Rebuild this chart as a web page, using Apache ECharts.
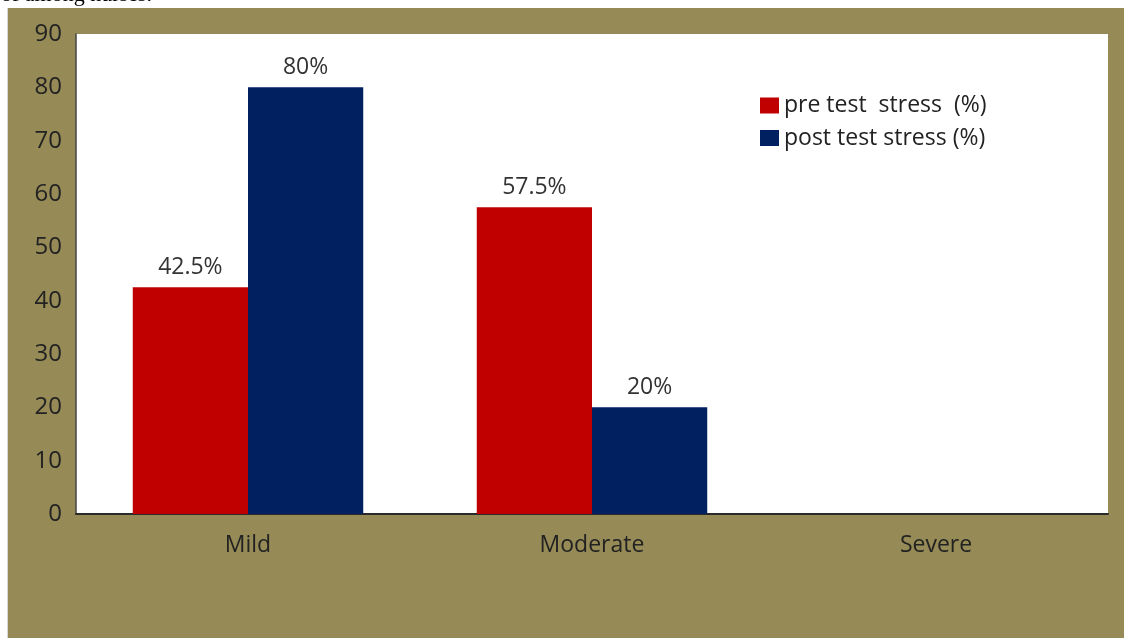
<!DOCTYPE html>
<html><head><meta charset="utf-8">
<script src="https://cdn.jsdelivr.net/npm/echarts@6/dist/echarts.min.js"></script>
<style>html,body{margin:0;padding:0;background:#fff}#c{width:1124px;height:638px}</style>
</head><body><div id="c"></div>
<script>
const categories = ['Mild', 'Moderate', 'Severe'];
const preTest = [42.5, 57.5, 0];
const postTest = [80, 20, 0];
const seriesNames = ['pre test  stress  (%)', 'post test stress (%)'];
const yTicks = [0, 10, 20, 30, 40, 50, 60, 70, 80, 90];

const font = '"Open Sans", "Noto Sans", sans-serif';
const chart = echarts.init(document.getElementById('c'));
const lbl = {
  show: true, position: 'top', distance: 8, color: '#333', fontSize: 23, fontFamily: font,
  formatter: p => p.value ? p.value + '%' : ''
};
chart.setOption({
  backgroundColor: '#ffffff',
  animation: false,
  graphic: [
    { type: 'rect', z: -10, silent: true, shape: { x: 8, y: 8, width: 1116, height: 630 }, style: { fill: '#968b56' } },
    { type: 'rect', z: -11, silent: true, shape: { x: 7, y: 8, width: 1, height: 630 }, style: { fill: '#d8d8d8' } },
    { type: 'text', silent: true, left: 1, top: -16, style: { text: 'of among nurses.', font: '22px "Liberation Serif", serif', fill: '#000' } }
  ],
  grid: { left: 76, right: 16, top: 34, bottom: 124, show: true, backgroundColor: '#ffffff', borderWidth: 0 },
  legend: {
    orient: 'vertical', left: 755, top: 89, itemWidth: 19, itemHeight: 16, itemGap: 9.5,
    icon: 'rect',
    textStyle: { fontSize: 23, lineHeight: 20, fontFamily: font, color: '#222' },
    data: seriesNames
  },
  xAxis: {
    type: 'category', data: categories,
    axisLine: { lineStyle: { color: '#2a2a2a', width: 2 } },
    axisTick: { show: false },
    axisLabel: { color: '#222', fontSize: 23, fontFamily: font, margin: 20 }
  },
  yAxis: {
    type: 'value', min: yTicks[0], max: yTicks[yTicks.length - 1], interval: 10,
    axisLine: { show: true, lineStyle: { color: '#444', width: 1.5 } },
    axisTick: { show: false },
    splitLine: { show: false },
    axisLabel: { color: '#222', fontSize: 24, fontFamily: font, margin: 14 }
  },
  series: [
    { name: seriesNames[0], type: 'bar', data: preTest, itemStyle: { color: '#c00000' },
      barGap: '0%', barCategoryGap: '33%', label: lbl },
    { name: seriesNames[1], type: 'bar', data: postTest, itemStyle: { color: '#002060' },
      barGap: '0%', barCategoryGap: '33%', label: lbl }
  ]
});
</script></body></html>
